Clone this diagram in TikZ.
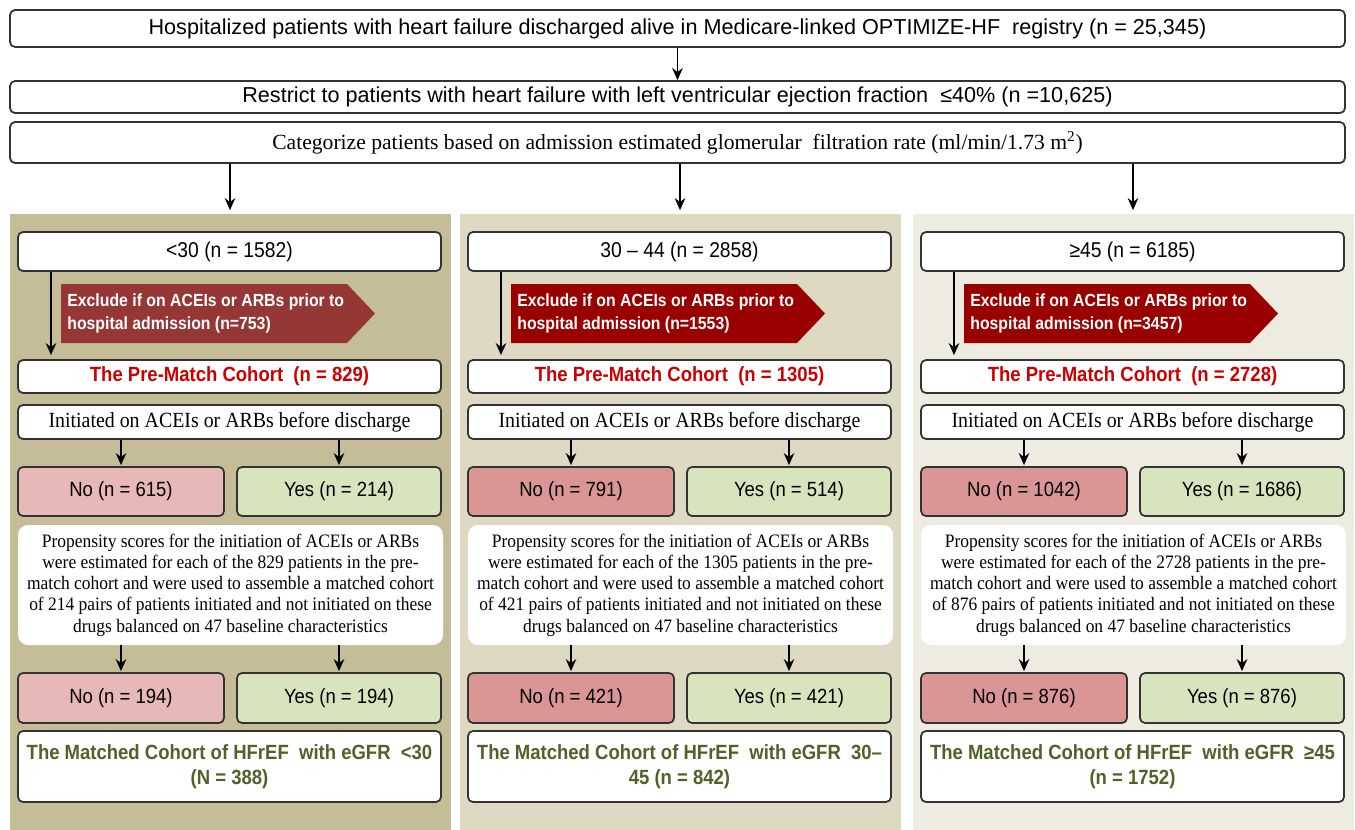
\documentclass[tikz,border=0pt]{standalone}
\usepackage{fontspec}
\setmainfont{Liberation Serif}[FakeStretch=0.92]
\newfontfamily\arialfont{Liberation Sans}[FakeStretch=0.9]
\newfontfamily\arialwide{Liberation Sans}
\newfontfamily\timeswide{Liberation Serif}
\usetikzlibrary{arrows.meta, positioning, calc}

\definecolor{panelA}{HTML}{C4BD97}
\definecolor{panelB}{HTML}{DDD9C3}
\definecolor{panelC}{HTML}{EEECE1}
\definecolor{exclA}{HTML}{953735}
\definecolor{exclB}{HTML}{990000}
\definecolor{noA}{HTML}{E6B9B8}
\definecolor{noB}{HTML}{D99694}
\definecolor{yesfill}{HTML}{D7E4BD}
\definecolor{prered}{HTML}{CC0000}
\definecolor{matchgreen}{HTML}{4F6228}

\newcommand{\pxu}{0.2mm}

\tikzset{
  box/.style={draw=black!80, line width=1pt, rounded corners=1mm, fill=white, inner sep=0pt, minimum width=423*\pxu},
  headtext/.style={font=\arialwide\fontsize{12.3}{14}\selectfont},
  headserf/.style={font=\timeswide\fontsize{12.3}{14}\selectfont},
  sanstext/.style={font=\arialfont\fontsize{11.7}{14}\selectfont},
  rngtext/.style={font=\arialfont\fontsize{12.2}{14}\selectfont},
  serftext/.style={font=\fontsize{12.3}{14}\selectfont},
  boldtext/.style={font=\arialfont\bfseries\fontsize{11.7}{14.5}\selectfont},
  exctext/.style={font=\arialfont\bfseries\fontsize{10}{13}\selectfont, text=white, align=left, inner sep=0pt},
  propbox/.style={fill=white, rounded corners=2mm, inner sep=0pt, minimum width=425*\pxu, minimum height=120*\pxu, align=center, font=\fontsize{10.8}{12.1}\selectfont},
  panel/.style={inner sep=0pt, minimum width=441*\pxu, minimum height=616*\pxu},
  arr/.style={-{Stealth[length=2.4mm, width=2.1mm]}, line width=1pt},
}

\begin{document}
\begin{tikzpicture}[x=0.2mm, y=-0.2mm]
  \useasboundingbox (0,0) rectangle (1355,829);

  % common steps
  \node[box, headtext, minimum width=1335*\pxu, minimum height=37*\pxu] (reg) at (677.5,28.5) {Hospitalized patients with heart failure discharged alive in Medicare-linked OPTIMIZE-HF\ \ registry (n = 25,345)};
  \node[box, headtext, minimum width=1335*\pxu, minimum height=32*\pxu] (ef) at (677.5,97) {Restrict to patients with heart failure with left ventricular ejection fraction\ \ ≤40\% (n =10,625)};
  \node[box, headserf, minimum width=1335*\pxu, minimum height=41*\pxu] (cat) at (677.5,142.5) {Categorize patients based on admission estimated glomerular\ \ filtration rate (ml/min/1.73 m\textsuperscript{2})};
  \draw[arr] (reg) -- (ef);

  % one column per eGFR group
  \foreach \i/\ox/\bg/\ex/\nf/\rng/\exn/\pre/\na/\ya/\pairs/\nb/\yb/\mt/\mb in {
    1/18/panelA/exclA/noA/{<30 (n = 1582)}/753/829/615/214/214/194/194/{<30}/{(N = 388)},
    2/468/panelB/exclB/noB/{30 – 44 (n = 2858)}/1553/1305/791/514/421/421/421/{30–}/{45 (n = 842)},
    3/921/panelC/exclB/noB/{≥45 (n = 6185)}/3457/2728/1042/1686/876/876/876/{≥45}/{(n = 1752)}} {
    \node[panel, fill=\bg] (p\i) at ({\ox+212},521.5) {};
    \draw[arr, shorten >=3*\pxu] (cat.south -| p\i.north) -- (p\i.north);

    \node[box, rngtext, minimum height=39*\pxu] (rng\i) at ({\ox+211.5},251.5) {\rng};
    \fill[\ex] ({\ox+43},284) -- ({\ox+329},284) -- ({\ox+357},313.5) -- ({\ox+329},343) -- ({\ox+43},343) -- cycle;
    \node[exctext, anchor=west] (ex\i) at ({\ox+49},313.5) {Exclude\ if on\ ACEIs or ARBs prior\ to\\hospital\ admission (n=\exn)};
    \node[box, boldtext, text=prered, minimum height=33*\pxu] (pre\i) at ({\ox+211.5},376.5) {The Pre-Match Cohort\ \ (n = \pre)};
    \coordinate (dn\i) at ({\ox+33},300);
    \draw[arr, shorten >=4*\pxu] (rng\i.south -| dn\i) -- (pre\i.north -| dn\i);

    \node[box, serftext, minimum height=34*\pxu] (init\i) at ({\ox+211.5},422) {Initiated on ACEIs or ARBs before discharge};
    \node[box, sanstext, fill=\nf, minimum width=206*\pxu, minimum height=49*\pxu] (noa\i) at ({\ox+103},491.5) {No (n = \na)};
    \node[box, sanstext, fill=yesfill, minimum width=204*\pxu, minimum height=49*\pxu] (yesa\i) at ({\ox+321},491.5) {Yes (n = \ya)};
    \draw[arr, shorten >=1*\pxu] (init\i.south -| noa\i.north) -- (noa\i.north);
    \draw[arr, shorten >=1*\pxu] (init\i.south -| yesa\i.north) -- (yesa\i.north);

    \node[propbox] (prop\i) at ({\ox+212.5},585) {Propensity scores for the initiation of ACEIs or ARBs\\were\ estimated for each of the \pre{} patients in the pre-\\match cohort and were\ used\ to assemble\ a matched cohort\\of \pairs{} pairs of patients initiated and not initiated on these\\drugs\ balanced\ on 47 baseline\ characteristics};
    \node[box, sanstext, fill=\nf, minimum width=206*\pxu, minimum height=50*\pxu] (nob\i) at ({\ox+103},698) {No (n = \nb)};
    \node[box, sanstext, fill=yesfill, minimum width=204*\pxu, minimum height=50*\pxu] (yesb\i) at ({\ox+321},698) {Yes (n = \yb)};
    \draw[arr, shorten >=1*\pxu] (prop\i.south -| nob\i.north) -- (nob\i.north);
    \draw[arr, shorten >=1*\pxu] (prop\i.south -| yesb\i.north) -- (yesb\i.north);

    \node[box, boldtext, text=matchgreen, align=center, minimum height=71*\pxu] (mat\i) at ({\ox+211.5},766.5) {The Matched Cohort of HFrEF\ \ with eGFR\ \ \mt\\\mb};
  }
\end{tikzpicture}
\end{document}
